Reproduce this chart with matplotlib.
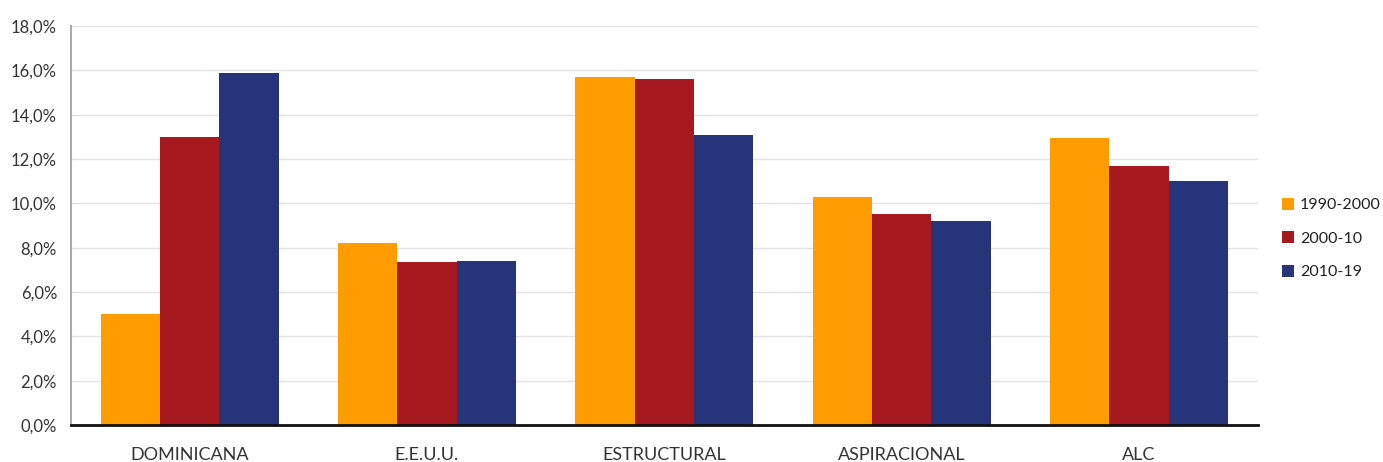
import numpy as np
import matplotlib
matplotlib.use('Agg')
import matplotlib.pyplot as plt
from matplotlib.ticker import FuncFormatter

plt.rcParams['font.family'] = ['Lato', 'DejaVu Sans']

categories = ['DOMINICANA', 'E.E.U.U.', 'ESTRUCTURAL', 'ASPIRACIONAL', 'ALC']
series_names = ['1990-2000', '2000-10', '2010-19']
v_1990_2000 = [5.0, 8.2, 15.7, 10.3, 12.95]
v_2000_10 = [13.0, 7.35, 15.6, 9.5, 11.7]
v_2010_19 = [15.9, 7.4, 13.1, 9.2, 11.0]
colors = ['#FF9C00', '#A6191F', '#26347A']

fig = plt.figure(figsize=(13.83, 4.62), dpi=100)
ax = fig.add_axes([0.0513, 0.0801, 0.858, 0.8636])

x = np.arange(len(categories))
w = 0.25
for i, (vals, name) in enumerate(zip([v_1990_2000, v_2000_10, v_2010_19], series_names)):
    ax.bar(x + (i - 1) * w, vals, width=w, color=colors[i], label=name, zorder=3)

ax.set_xlim(-0.5, len(categories) - 0.5)
ax.set_ylim(0, 18)
ax.set_yticks(np.arange(0, 19, 2))
ax.yaxis.set_major_formatter(FuncFormatter(lambda v, p: ('%.1f%%' % v).replace('.', ',')))
ax.set_xticks(x)
ax.set_xticklabels(categories)
ax.grid(axis='y', color='#E3E3E3', linewidth=1, zorder=0)
ax.tick_params(axis='both', length=0, labelsize=12, colors='#333333')
ax.tick_params(axis='x', pad=16, labelsize=13)
ax.tick_params(axis='y', pad=10)

for s in ['top', 'right']:
    ax.spines[s].set_visible(False)
ax.spines['left'].set_color('#AAAAAA')
ax.spines['left'].set_linewidth(1.5)
ax.spines['bottom'].set_color('#111111')
ax.spines['bottom'].set_linewidth(2)
ax.spines['bottom'].set_zorder(4)

leg = ax.legend(loc='center left', bbox_to_anchor=(1.021, 0.467), frameon=False,
                fontsize=11.5, handlelength=0.75, handleheight=0.75, handletextpad=0.35,
                labelspacing=1.2, borderaxespad=0, borderpad=0, labelcolor='#222222')

fig.savefig('out.png', dpi=100)
